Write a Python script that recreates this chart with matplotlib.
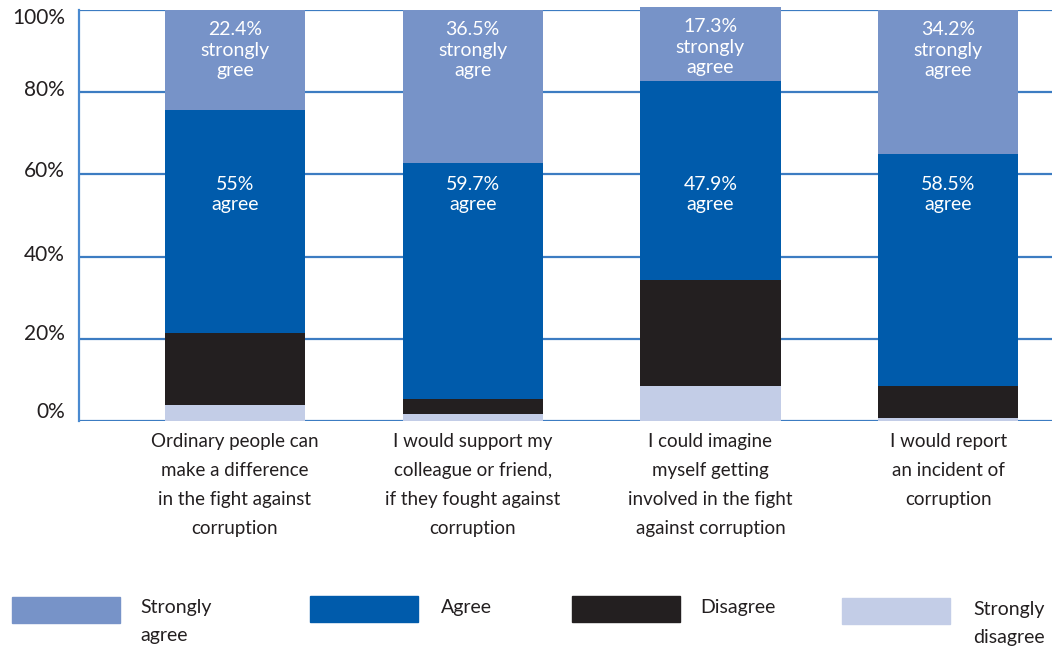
import matplotlib
matplotlib.use("Agg")
import matplotlib.pyplot as plt
from matplotlib.patches import Rectangle
from matplotlib.transforms import ScaledTranslation
import numpy as np

plt.rcParams['font.family'] = ['Lato', 'DejaVu Sans']

categories = [
    "Ordinary people can\nmake a difference\nin the fight against\ncorruption",
    "I would support my\ncolleague or friend,\nif they fought against\ncorruption",
    "I could imagine\nmyself getting\ninvolved in the fight\nagainst corruption",
    "I would report\nan incident of\ncorruption",
]
strongly_disagree = [3.9, 1.7, 8.5, 0.7]
disagree = [17.6, 3.65, 25.8, 7.8]
agree = [54.2, 57.4, 48.4, 56.5]
strongly_agree = [24.3, 37.2, 18.0, 35.0]
agree_labels = ["55%\nagree", "59.7%\nagree", "47.9%\nagree", "58.5%\nagree"]
strongly_agree_labels = ["22.4%\nstrongly\ngree", "36.5%\nstrongly\nagre",
                         "17.3%\nstrongly\nagree", "34.2%\nstrongly\nagree"]
yticks = [0, 20, 40, 60, 80, 100]
ytick_labels = ["0%", "20%", "40%", "60%", "80%", "100%"]
legend_labels = ["Strongly\nagree", "Agree", "Disagree", "Strongly\ndisagree"]

c_sa = "#7793c8"
c_a = "#005bab"
c_d = "#231f20"
c_sd = "#c3cde7"
grid_c = "#3c7cc2"
text_c = "#231f20"

W, H = 1052, 647
fig = plt.figure(figsize=(W / 100, H / 100), dpi=100)
ax_left, ax_right, ax_bottom, ax_top = 79, 1052, 421, 10
ax = fig.add_axes([ax_left / W, 1 - ax_bottom / H, (ax_right - ax_left) / W,
                   (ax_bottom - ax_top) / H])

x = np.arange(len(categories))
bw = 0.59
sd = np.array(strongly_disagree)
d = np.array(disagree)
a = np.array(agree)
sa = np.array(strongly_agree)

ax.bar(x, sd, bw, color=c_sd, zorder=3, clip_on=False)
ax.bar(x, d, bw, bottom=sd, color=c_d, zorder=3, clip_on=False)
ax.bar(x, a, bw, bottom=sd + d, color=c_a, zorder=3, clip_on=False)
ax.bar(x, sa, bw, bottom=sd + d + a, color=c_sa, zorder=3, clip_on=False)

for i in range(len(x)):
    top_a = sd[i] + d[i] + a[i]
    top_sa = top_a + sa[i]
    ax.annotate(strongly_agree_labels[i], (x[i], top_sa), xytext=(0, -8),
                textcoords="offset points", ha="center", va="top",
                color="white", fontsize=14, linespacing=1.25, zorder=4,
                annotation_clip=False)
    ax.text(x[i], 55, agree_labels[i], ha="center", va="center",
            color="white", fontsize=14, linespacing=1.22, zorder=4)

spacing_px = 237.7
ax.set_xlim((ax_left - 235) / spacing_px, (ax_right - 235) / spacing_px)
ax.set_ylim(0, 100)
ax.set_yticks(yticks)
ax.set_yticklabels(ytick_labels)
ax.yaxis.grid(True, color=grid_c, linewidth=1.6, zorder=0)
ax.set_axisbelow(True)
ax.tick_params(axis="y", length=0, pad=10, labelsize=15, labelcolor=text_c)
label_shift_px = [9, 5, 2, 3, 2, -8]
for lbl, dy in zip(ax.get_yticklabels(), label_shift_px):
    lbl.set_verticalalignment("center")
    lbl.set_transform(lbl.get_transform() +
                      ScaledTranslation(0, dy / 100, fig.dpi_scale_trans))
ax.tick_params(axis="x", length=0, pad=9, labelsize=13.5, labelcolor=text_c)
ax.set_xticks(x)
ax.set_xticklabels(categories, linespacing=1.85)
for s in ["top", "right", "bottom"]:
    ax.spines[s].set_visible(False)
ax.spines["left"].set_color("#4a8ad0")
ax.spines["left"].set_linewidth(1.6)

# legend
leg_colors = [c_sa, c_a, c_d, c_sd]
leg_patch_x = [12, 310, 572, 842]
leg_patch_y = [597, 596, 596, 598]
leg_text_x = [140, 441, 700, 973]
leg_text_y = [599, 599, 599, 601]
for i in range(4):
    fig.add_artist(Rectangle((leg_patch_x[i] / W, 1 - (leg_patch_y[i] + 26) / H),
                             108 / W, 26 / H, transform=fig.transFigure,
                             color=leg_colors[i]))
    fig.text(leg_text_x[i] / W, 1 - leg_text_y[i] / H, legend_labels[i],
             ha="left", va="top", fontsize=14, color=text_c, linespacing=1.75)

fig.savefig("out.png", dpi=100)
